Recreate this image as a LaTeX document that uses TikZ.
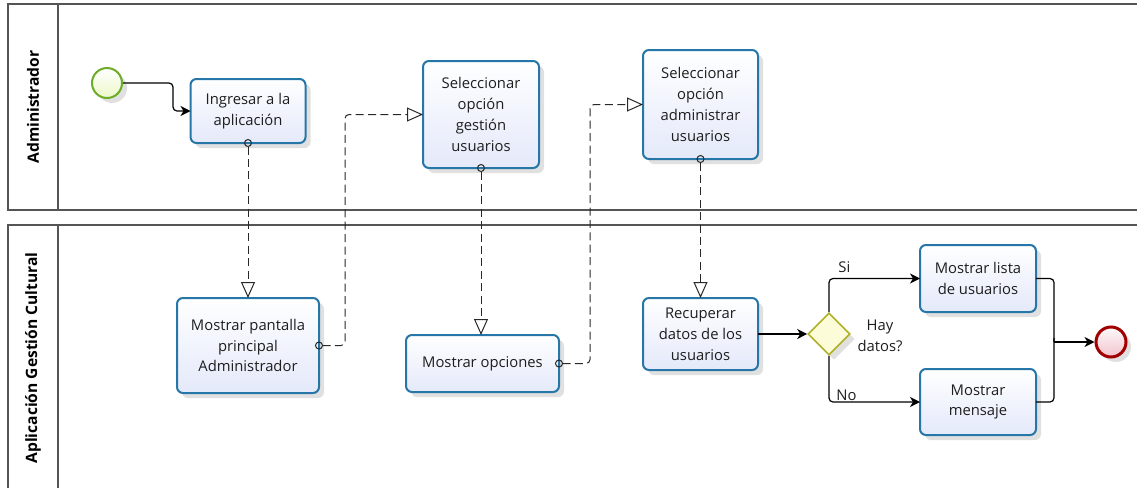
\documentclass[tikz,border=0pt]{standalone}
\usepackage{fontspec}
\setmainfont{Open Sans}
\usetikzlibrary{arrows.meta,shapes.geometric,shadows,calc}

\definecolor{taskline}{RGB}{38,118,168}
\definecolor{taskfill}{RGB}{228,233,250}
\definecolor{startline}{RGB}{108,172,40}
\definecolor{startfill}{RGB}{236,248,200}
\definecolor{endline}{RGB}{160,0,0}
\definecolor{endfill}{RGB}{240,196,204}
\definecolor{gwline}{RGB}{176,176,40}
\definecolor{gwfill}{RGB}{252,252,216}
\definecolor{laneline}{RGB}{85,85,85}
\definecolor{flowline}{RGB}{40,40,40}
\definecolor{txt}{RGB}{30,30,30}

\tikzset{
  softshadow/.style={drop shadow={opacity=0.2,shadow xshift=2.5pt,shadow yshift=-2.5pt,fill=black!60}},
  task/.style={rectangle, rounded corners=3pt, draw=taskline, line width=1pt,
    top color=white, bottom color=taskfill, softshadow,
    align=center, inner sep=2pt, outer sep=0pt, text=txt,
    font=\fontsize{7.4}{10.4}\selectfont},
  startev/.style={circle, draw=startline, line width=1pt, inner sep=0pt,
    minimum size=15pt, top color=white, bottom color=startfill, softshadow},
  endev/.style={circle, draw=endline, line width=1.5pt, inner sep=0pt,
    minimum size=15pt, top color=white!90!endfill, bottom color=endfill, softshadow},
  gateway/.style={diamond, draw=gwline, line width=0.8pt, inner sep=0pt,
    minimum width=21pt, minimum height=21pt, fill=gwfill, softshadow},
  seqflow/.style={draw=black, line width=0.6pt, rounded corners=2pt,
    -{Stealth[length=5pt,width=5pt,inset=1.5pt]}},
  msgflow/.style={draw=flowline, line width=0.5pt, dash pattern=on 4pt off 2.2pt,
    rounded corners=2pt, shorten <=-2pt,
    {Circle[open,length=4pt,width=4pt,line width=0.5pt,sep=0pt]}-{Triangle[open,length=8pt,width=7pt,line width=0.5pt]}},
  lanelabel/.style={rotate=90, font=\fontsize{7.8}{9}\selectfont\bfseries, text=black},
  flowlabel/.style={font=\fontsize{7.4}{10.4}\selectfont, text=txt, inner sep=1pt},
  lane/.style={draw=laneline, line width=0.75pt}
}

\begin{document}
\begin{tikzpicture}[x=0.5pt,y=-0.5pt]
\useasboundingbox (0,0) rectangle (1137,488);
\clip (0,0) rectangle (1137,488);

% lanes
\draw[lane] (1150,4) -- (8,4) -- (8,210) -- (1150,210);
\draw[lane] (58,4) -- (58,210);
\draw[lane] (1150,225) -- (8,225) -- (8,500);
\draw[lane] (58,225) -- (58,500);
\node[lanelabel] (laneA) at (33,107) {Administrador};
\node[lanelabel] (laneB) at (33,358) {Aplicación Gestión Cultural};

% events, tasks and gateway
\node[startev] (start) at (107,83) {};
\node[task, minimum width=57.5pt, minimum height=32pt] (ingresar) at (248,111) {Ingresar a la\\aplicación};
\node[task, minimum width=71pt, minimum height=47.5pt] (pantalla) at (248,345.5) {Mostrar pantalla\\principal\\Administrador};
\node[task, minimum width=58pt, minimum height=53.5pt] (gestion) at (481,114.5) {Seleccionar\\opción\\gestión\\usuarios};
\node[task, minimum width=76.5pt, minimum height=28.5pt] (opciones) at (482.5,363.5) {Mostrar opciones};
\node[task, minimum width=57.5pt, minimum height=54.5pt] (admin) at (700.5,104.5) {Seleccionar\\opción\\administrar\\usuarios};
\node[task, minimum width=57.5pt, minimum height=36pt] (recuperar) at (700.5,334) {Recuperar\\datos de los\\usuarios};
\node[gateway] (gw) at (829,334) {};
\node[flowlabel, align=center] (gwlabel) at (880,336) {Hay\\datos?};
\node[task, minimum width=58pt, minimum height=33.5pt] (lista) at (978,278.5) {Mostrar lista\\de usuarios};
\node[task, minimum width=58pt, minimum height=33pt] (mensaje) at (978,402) {Mostrar\\mensaje};
\node[endev] (end) at (1111,342) {};

% sequence flows
\draw[seqflow] (start.east) -- ++(50,0) |- (ingresar.west);
\draw[seqflow] (recuperar.east) -- (gw.west);
\draw[seqflow] (gw.north) |- (lista.west);
\draw[seqflow] (gw.south) |- (mensaje.west);
\node[flowlabel, anchor=west] (silabel) at (836,267) {Si};
\node[flowlabel, anchor=west] (nolabel) at (834,395) {No};
\coordinate (join) at (1054,342);
\draw[draw=black, line width=0.6pt, rounded corners=2pt] (lista.east) -- ++(18,0) |- (join);
\draw[draw=black, line width=0.6pt, rounded corners=2pt] (mensaje.east) -- ++(18,0) |- (join);
\draw[seqflow] (join) -- (end.west);

% message flows
\draw[msgflow] (ingresar.south) -- (pantalla.north);
\draw[msgflow] (pantalla.east) -- ++(26,0) |- (gestion.west);
\draw[msgflow] (gestion.south) -- (gestion.south |- opciones.north);
\draw[msgflow] (opciones.east) -- ++(31,0) |- (admin.west);
\draw[msgflow] (admin.south) -- (recuperar.north);
\end{tikzpicture}
\end{document}
